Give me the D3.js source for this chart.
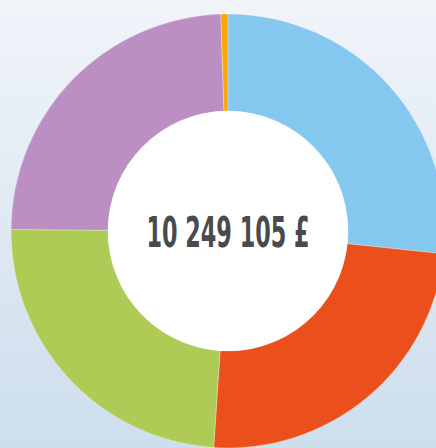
<!DOCTYPE html>
<html>
<head>
<meta charset="utf-8">
<script src="https://cdn.jsdelivr.net/npm/d3@7"></script>
<style>
  html, body { margin: 0; padding: 0; }
  body { width: 436px; height: 448px; overflow: hidden; }
</style>
</head>
<body>
<div id="chart"></div>
<script>
var segmentNames = ["Bleu", "Rouge", "Vert", "Violet", "Orange"];
var segmentValues = [2735000, 2497000, 2466000, 2497000, 54105];
var segmentColors = ["#85c8ef", "#eb4f1b", "#aecb55", "#bc8fc2", "#f8a900"];

var width = 436, height = 448;
var cx = 228, cy = 231;
var outerR = 217, innerR = 120;

var data = segmentNames.map(function (n, i) {
    return { name: n, value: segmentValues[i], color: segmentColors[i] };
});

var svg = d3.select("#chart")
    .append("svg")
    .attr("width", width)
    .attr("height", height);

var defs = svg.append("defs");
var grad = defs.append("linearGradient")
    .attr("id", "bg")
    .attr("x1", 0).attr("y1", 0)
    .attr("x2", 0).attr("y2", 1);
grad.append("stop").attr("offset", "0%").attr("stop-color", "#f1f4f9");
grad.append("stop").attr("offset", "100%").attr("stop-color", "#cddeed");

svg.append("rect")
    .attr("width", width)
    .attr("height", height)
    .attr("fill", "url(#bg)");

var pie = d3.pie()
    .sort(null)
    .value(function (d) { return d.value; });

var arc = d3.arc()
    .innerRadius(innerR)
    .outerRadius(outerR);

var g = svg.append("g")
    .attr("transform", "translate(" + cx + "," + cy + ")");

g.selectAll(".slice")
    .data(pie(data))
    .enter()
    .append("path")
    .attr("class", "slice")
    .attr("d", arc)
    .attr("fill", function (d) { return d.data.color; })
    .attr("stroke", "#ffffff")
    .attr("stroke-width", 0.3);

g.append("circle")
    .attr("r", innerR)
    .attr("fill", "#ffffff");

var total = d3.sum(segmentValues);
var label = d3.format(",")(total).replace(/,/g, " ") + " £";

g.append("text")
    .attr("x", 0)
    .attr("y", 16)
    .attr("text-anchor", "middle")
    .attr("font-family", "'Liberation Sans Narrow', 'DejaVu Sans Condensed', sans-serif")
    .attr("font-weight", "bold")
    .attr("font-size", "43px")
    .attr("fill", "#4a4a4c")
    .attr("textLength", 163)
    .attr("lengthAdjust", "spacingAndGlyphs")
    .text(label);
</script>
</body>
</html>
